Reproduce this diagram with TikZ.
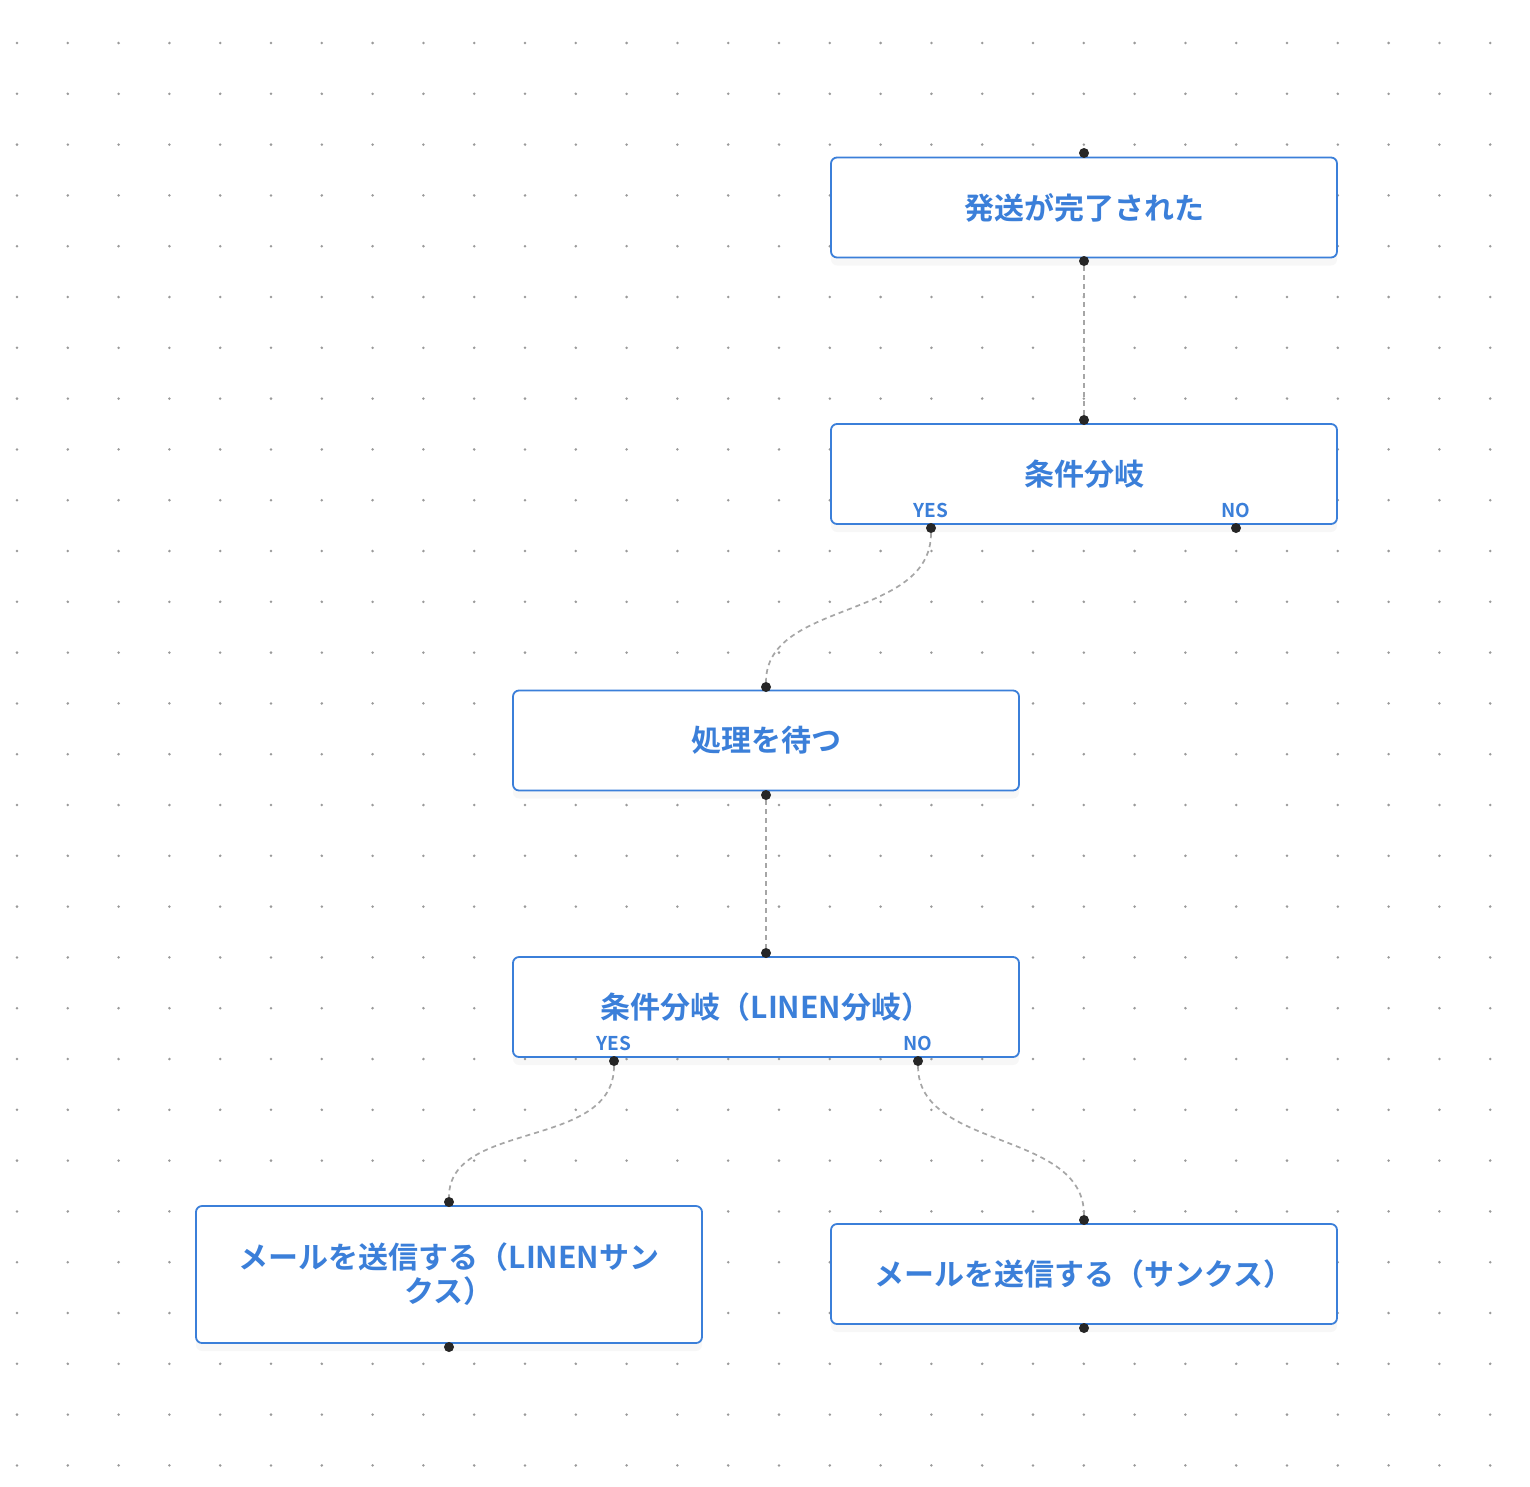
\documentclass[tikz,border=0pt]{standalone}
\usepackage{fontspec}
\newfontfamily\cjk{Noto Sans CJK JP Bold}
\usetikzlibrary{shadows}
\definecolor{blu}{HTML}{3B7FD9}
\definecolor{dotc}{HTML}{9A9A9A}
\tikzset{
 box/.style={draw=blu,line width=1.8pt,rounded corners=6pt,fill=white,minimum width=506pt,minimum height=100pt,inner sep=0pt,
   drop shadow={shadow xshift=0pt,shadow yshift=-8pt,opacity=0.06},
   font=\cjk\fontsize{30}{34}\selectfont,text=blu,align=center},
 pt/.style={circle,fill=black!85,inner sep=0pt,minimum size=10pt},
 lab/.style={font=\cjk\fontsize{19}{20}\selectfont,text=blu},
 con/.style={draw=black!35,line width=1.7pt,dash pattern=on 5pt off 4pt},
}
\begin{document}
\begin{tikzpicture}[x=1pt,y=-1pt]
\useasboundingbox (0,0) rectangle (1530,1486);
\fill[white] (0,0) rectangle (1530,1486);
\foreach \i in {0,...,29}{\foreach \j in {0,...,28}{
 \fill[dotc] (17+50.8*\i,43+50.8*\j) circle (1.4pt);}}
\node[box] (b1) at (1084,207.5) {発送が完了された};
\node[box] (b2) at (1084,474) {条件分岐};
\node[box] (b3) at (766,740.5) {処理を待つ};
\node[box] (b4) at (766,1007) {条件分岐（LINEN分岐）};
\node[box,minimum height=137pt] (b5) at (449,1274.5) {メールを送信する（LINENサン\\クス）};
\node[box] (b6) at (1084,1274) {メールを送信する（サンクス）};
\node[lab] (y1) at (931,510) {YES};
\node[lab] (n1) at (1236,510) {NO};
\node[lab] (y2) at (614,1043) {YES};
\node[lab] (n2) at (918,1043) {NO};
\node[pt] (p1t) at (1084,153) {};
\node[pt] (p1b) at (1084,261) {};
\node[pt] (p2t) at (1084,420) {};
\node[pt] (p2y) at (931,528) {};
\node[pt] (p2n) at (1236,528) {};
\node[pt] (p3t) at (766,687) {};
\node[pt] (p3b) at (766,795) {};
\node[pt] (p4t) at (766,953) {};
\node[pt] (p4y) at (614,1061) {};
\node[pt] (p4n) at (918,1061) {};
\node[pt] (p5t) at (449,1202) {};
\node[pt] (p5b) at (449,1347) {};
\node[pt] (p6t) at (1084,1220) {};
\node[pt] (p6b) at (1084,1328) {};
\draw[con] (p1b) -- (p2t);
\draw[con] (p2y) .. controls (931,620) and (766,600) .. (p3t);
\draw[con] (p3b) -- (p4t);
\draw[con] (p4y) .. controls (614,1150) and (449,1120) .. (p5t);
\draw[con] (p4n) .. controls (918,1150) and (1084,1130) .. (p6t);
\end{tikzpicture}
\end{document}
